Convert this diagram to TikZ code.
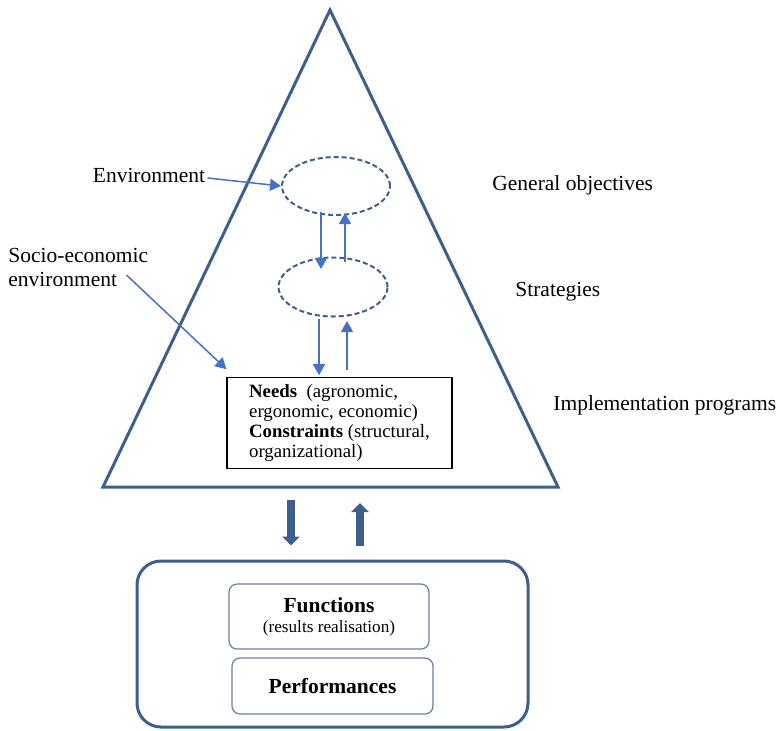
\documentclass[tikz,border=0pt]{standalone}
\usepackage{fontspec}
\setmainfont{Liberation Serif}
\usepackage{tikz}
\usetikzlibrary{
	positioning,
	arrows.meta,
	shapes.geometric,
	calc
}
\definecolor{PyramidBlue}{RGB}{62,94,140}
\definecolor{FlowBlue}{RGB}{68,114,196}

\begin{document}
\begin{tikzpicture}[
	x=0.5pt,
	y=-0.5pt,
	font=\fontsize{10.75}{12}\selectfont,
	level/.style={
		ellipse,
		draw=PyramidBlue,
		line width=1pt,
		dash pattern=on 2.5pt off 1.5pt,
		minimum width=54pt,
		minimum height=29pt
	},
	tag/.style={
		inner sep=1pt
	},
	card/.style={
		draw=PyramidBlue!80,
		line width=0.6pt,
		rounded corners=4pt,
		minimum width=100pt,
		align=center
	},
	flow/.style={
		-{Triangle[width=6pt,length=5.5pt]},
		FlowBlue,
		line width=0.75pt
	},
	bigflow/.style={
		-{Triangle[width=8.5pt,length=4.5pt]},
		PyramidBlue,
		line width=4pt
	}
	]
	
	\useasboundingbox (0,0) rectangle (776,730);
	
	\coordinate (Apex) at (330,10);
	\coordinate (BaseL) at (103,487);
	\coordinate (BaseR) at (558,487);
	\coordinate (BaseMid) at (330.5,487);
	
	\draw[
	PyramidBlue,
	line width=1.5pt,
	line join=miter
	] (Apex) -- (BaseL) -- (BaseR) -- cycle;
	
	\node[level] (Goals) at (336,186) {};
	
	\node[level, minimum width=54.5pt, minimum height=29.5pt] (Strategies) at (333,287) {};
	
	\node[
	draw=black,
	line width=0.6pt,
	minimum width=112.5pt,
	minimum height=43pt,
	align=left,
	font=\fontsize{9.4}{10}\selectfont
	] (Needs) at (339.5,423) {\textbf{Needs}\ \ (agronomic,\\ergonomic, economic)\\\textbf{Constraints} (structural,\\organizational)};
	
	\node[tag] (EnvLabel) at (149,175) {Environment};
	
	\node[
	tag,
	align=left,
	font=\fontsize{10.75}{12}\selectfont,
	anchor=west
	] (SocioLabel) at (6,267) {Socio-economic\\environment};
	
	\node[tag, anchor=west] (GoalsLabel) at (490,185) {General objectives};
	\node[tag, anchor=west] (StrategiesLabel) at (513,292) {Strategies};
	\node[tag, anchor=west] (ProgramsLabel) at (551,405) {Implementation programs};
	
	\draw[flow] ([yshift=-1.5pt]EnvLabel.east) -- (Goals.west);
	\draw[flow] ([shift={(-24,8)}]SocioLabel.east) -- ([shift={(0,-8)}]Needs.north west);
	
	\draw[flow] ([shift={(-15,-4)}]Goals.south) -- ([shift={(-12,12.5)}]Strategies.north);
	\draw[flow] ([shift={(12,5.5)}]Strategies.north) -- ([shift={(9,-3)}]Goals.south);
	\draw[flow] ([shift={(-14,1.5)}]Strategies.south) -- ([shift={(-20.5,-2)}]Needs.north);
	\draw[flow] ([shift={(7.5,-7)}]Needs.north) -- ([shift={(14,3.5)}]Strategies.south);
	
	\node[
	draw=PyramidBlue,
	line width=1.5pt,
	rounded corners=12pt,
	minimum width=195.5pt,
	minimum height=83pt
	] (Operations) at (332.5,644) {};
	
	\node[card, minimum height=32.5pt] (Functions) at (329,616.5) {\textbf{Functions}\\[-2pt]{\fontsize{8.6}{9}\selectfont (results realisation)}};
	
	\node[card, minimum width=100.5pt, minimum height=28pt] (Performances) at (332.5,686) {\textbf{Performances}};
	
	\draw[bigflow] ([shift={(-39.5,13)}]BaseMid) -- ([shift={(-41.5,-14)}]Operations.north);
	\draw[bigflow] ([shift={(27.5,-14)}]Operations.north) -- ([shift={(29.5,16)}]BaseMid);
	
\end{tikzpicture}
\end{document}
